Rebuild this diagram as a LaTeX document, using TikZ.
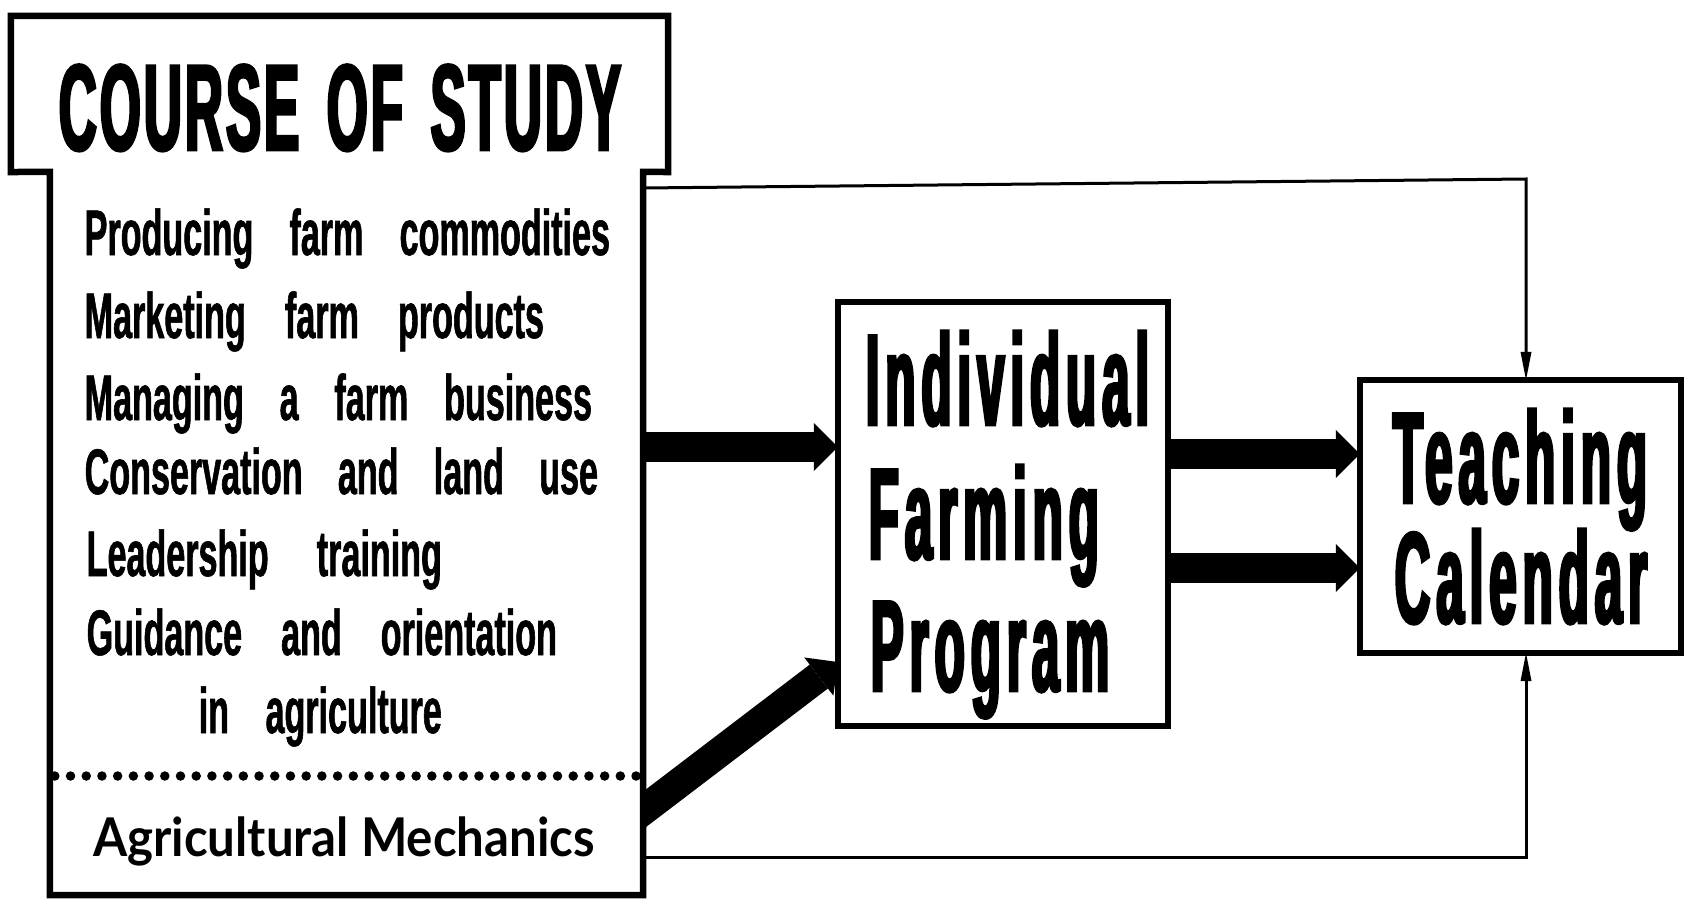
\documentclass[tikz,border=0pt]{standalone}
\usepackage{fontspec}
\usetikzlibrary{arrows.meta,calc}
% condensed gothic faces built from Liberation Sans
\newfontfamily\headfont[FakeStretch=0.43,FakeBold=2.3,LetterSpace=2.5]{Liberation Sans}
\newfontfamily\boxfont[FakeStretch=0.38,FakeBold=2.2,LetterSpace=4.5]{Liberation Sans}
\newfontfamily\listfont[FakeStretch=0.53,FakeBold=0.9]{Liberation Sans}
\newfontfamily\mechfont[FakeStretch=0.92]{Lato}

\begin{document}
\begin{tikzpicture}[x=0.01cm,y=-0.01cm,
  frame/.style={line width=0.065cm,line join=miter},
  panel/.style={draw=none,inner sep=0pt,outer sep=0pt},
  boxnode/.style={draw,line width=0.065cm,inner sep=0pt,outer sep=0pt},
  fat/.style={line width=0.30cm,-{Triangle[width=0.48cm,length=0.24cm,line width=0pt]}},
  thin/.style={line width=0.03cm,-{Triangle[width=0.11cm,length=0.28cm,line width=0pt]}},
  dotrule/.style={line width=0.095cm,line cap=round,dash pattern=on 0pt off 0.157cm},
  titletext/.style={anchor=base,inner sep=0pt,font=\headfont\bfseries\fontsize{34.8}{34}\selectfont},
  listline/.style={anchor=base west,inner sep=0pt,font=\listfont\bfseries\fontsize{18.3}{20}\selectfont},
  boxtext/.style={anchor=base west,inner sep=0pt,font=\boxfont\bfseries\fontsize{37}{37}\selectfont},
  mechtext/.style={anchor=base,inner sep=0pt,font=\mechfont\bfseries\fontsize{15.2}{17}\selectfont}]

\useasboundingbox (0,0) rectangle (1685,900);

% course of study panel: header tab and body
\node[panel,minimum width=6.57cm,minimum height=1.56cm] (head) at (339.5,94) {};
\node[panel,minimum width=5.93cm,minimum height=7.23cm] (body) at (346.5,533.5) {};
\draw[frame] (body.north west) -- (head.south west) -- (head.north west)
  -- (head.north east) -- (head.south east) -- (body.north east)
  -- (body.south east) -- (body.south west) -- cycle;

\node[titletext] (title) at (340,150) {\makebox[5.62cm][s]{COURSE OF STUDY}};

\node[listline] (l1) at (84,255) {\makebox[5.25cm][s]{Producing farm commodities}};
\node[listline] (l2) at (84,338) {\makebox[4.59cm][s]{Marketing farm products}};
\node[listline] (l3) at (84,420) {\makebox[5.07cm][s]{Managing a farm business}};
\node[listline] (l4) at (84,494) {\makebox[5.13cm][s]{Conservation and land use}};
\node[listline] (l5) at (86,576) {\makebox[3.55cm][s]{Leadership training}};
\node[listline] (l6) at (86,655) {\makebox[4.70cm][s]{Guidance and orientation}};
\node[listline] (l7) at (198,733) {\makebox[2.43cm][s]{in agriculture}};

\draw[dotrule] ($(body.west |- 0,776)+(5,0)$) -- (body.east |- 0,776);
\node[mechtext] (mech) at (344,856) {Agricultural Mechanics};

% program and calendar boxes
\node[boxnode,minimum width=3.30cm,minimum height=4.24cm] (ifp) at (1003,514) {};
\node[boxtext] (ifpA) at (865,425) {Individual};
\node[boxtext] (ifpB) at (868,559) {Farming};
\node[boxtext] (ifpC) at (870,691) {Program};

\node[boxnode,minimum width=3.21cm,minimum height=2.73cm] (tc) at (1520.5,516.5) {};
\node[boxtext] (tcA) at (1392,503) {Teaching};
\node[boxtext] (tcB) at (1394,623) {Calendar};

% heavy arrows
\draw[fat] (body.east |- 0,447) -- (ifp.west |- 0,447);
\draw[fat] (ifp.east |- 0,454) -- (tc.west |- 0,454);
\draw[fat] (ifp.east |- 0,568) -- (tc.west |- 0,568);
\coordinate (diagStart) at (620,828);
\begin{scope}
  \clip (body.north east) rectangle (900,900);
  \draw[fat] (diagStart) -- (ifp.west |- 0,662);
\end{scope}

% thin feedback lines into the calendar
\coordinate (topBend) at (1526,179);
\coordinate (botBend) at (1526,857);
\draw[thin] (body.east |- 0,188) -- (topBend) -- (tc.north -| topBend);
\draw[thin] (body.east |- botBend) -- (botBend) -- (tc.south -| botBend);

\end{tikzpicture}
\end{document}
